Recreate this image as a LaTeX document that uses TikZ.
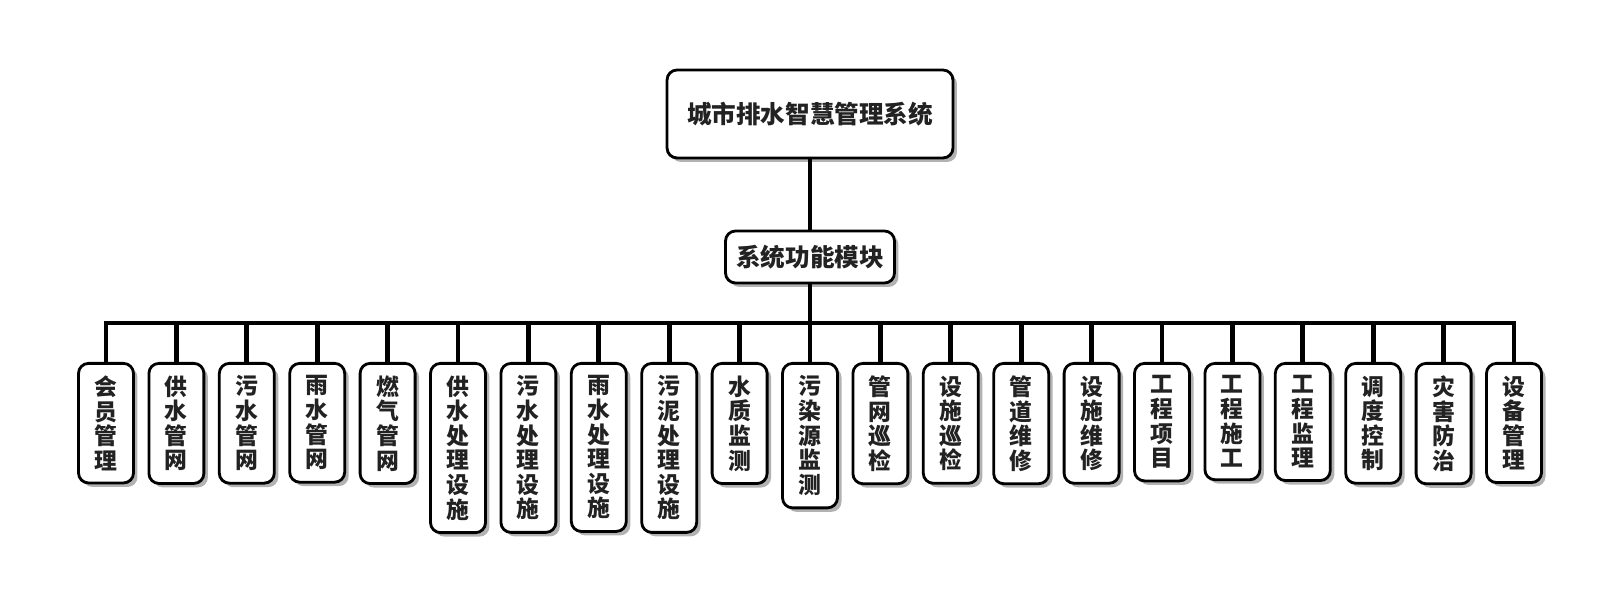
\documentclass[tikz,border=0pt]{standalone}
\usepackage{fontspec}
\setmainfont{Noto Sans CJK SC}
\usetikzlibrary{shadows}
\definecolor{txtgray}{RGB}{34,34,34}

\begin{document}
\begin{tikzpicture}[x=0.02cm,y=-0.02cm,
    every node/.style={font=\bfseries\fontsize{13}{14}\selectfont,text=txtgray},
    boxbase/.style={draw,line width=1.6pt,fill=white,rounded corners=0.2cm,
      drop shadow={shadow xshift=0.08cm,shadow yshift=-0.08cm,opacity=0.5,fill=black!60}},
    topbox/.style={boxbase,minimum width=5.72cm,minimum height=1.76cm,
      font=\bfseries\fontsize{14}{16}\selectfont},
    modbox/.style={boxbase,minimum width=3.38cm,minimum height=1.04cm,
      font=\bfseries\fontsize{14}{16}\selectfont},
    leafbox/.style={boxbase,anchor=north,minimum width=1.1cm,text width=0.5cm,
      align=center,inner xsep=0pt,inner ysep=7pt},
    link/.style={line width=2.8pt}]
  \useasboundingbox (0,0) rectangle (1620,607);
  \node[topbox] (sys) at (810,114) {城市排水智慧管理系统};
  \node[modbox] (mod) at (810,257) {系统功能模块};
  \coordinate (bus) at (810,323);
  % leaf modules
  \foreach \i/\t in {1/{会\\员\\管\\理},2/{供\\水\\管\\网},3/{污\\水\\管\\网},
                     4/{雨\\水\\管\\网},5/{燃\\气\\管\\网},
                     6/{供\\水\\处\\理\\设\\施},7/{污\\水\\处\\理\\设\\施},
                     8/{雨\\水\\处\\理\\设\\施},9/{污\\泥\\处\\理\\设\\施},
                     10/{水\\质\\监\\测},11/{污\\染\\源\\监\\测},
                     12/{管\\网\\巡\\检},13/{设\\施\\巡\\检},14/{管\\道\\维\\修},
                     15/{设\\施\\维\\修},16/{工\\程\\项\\目},17/{工\\程\\施\\工},
                     18/{工\\程\\监\\理},19/{调\\度\\控\\制},20/{灾\\害\\防\\治},
                     21/{设\\备\\管\\理}}{
    \node[leafbox] (l\i) at (106+70.4*\i-70.4,362) {\t};
  }
  \draw[link] (sys) -- (mod);
  \draw[link] (mod) -- (bus);
  \draw[link] (l1.north) |- (bus) -| (l21.north);
  \foreach \i in {2,...,20}{\draw[link] (l\i.north) -- (l\i.north |- bus);}
\end{tikzpicture}
\end{document}
